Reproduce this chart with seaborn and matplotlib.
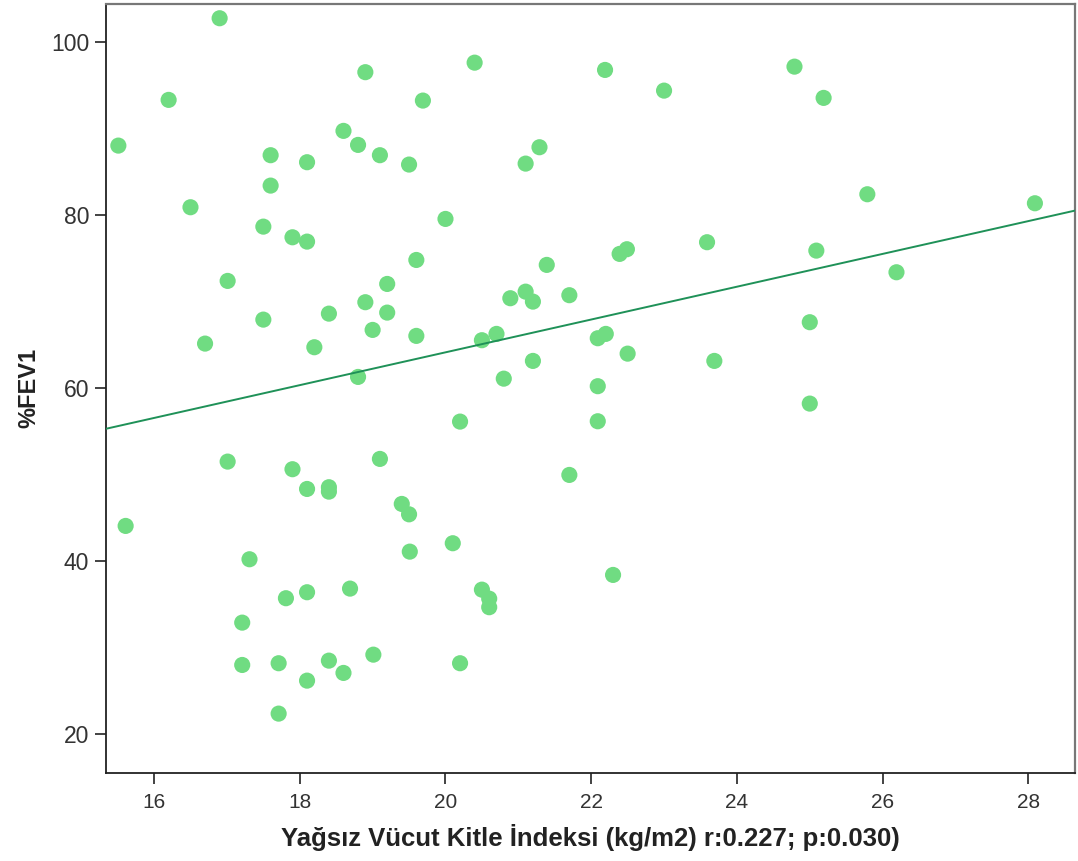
import matplotlib
matplotlib.use("Agg")
import matplotlib.pyplot as plt
import numpy as np
import pandas as pd
import seaborn as sns

# Lean body mass index (kg/m2) and %FEV1 per subject
lbmi = [
    15.51, 15.61, 16.20, 16.50, 16.70, 16.90, 17.01, 17.01, 17.21, 17.21,
    17.31, 17.50, 17.50, 17.60, 17.60, 17.71, 17.71, 17.81, 17.90, 17.90,
    18.10, 18.10, 18.10, 18.10, 18.10, 18.20, 18.40, 18.40, 18.40, 18.40,
    18.60, 18.60, 18.69, 18.80, 18.80, 18.90, 18.90, 19.00, 19.01, 19.10,
    19.10, 19.20, 19.20, 19.40, 19.50, 19.50, 19.51, 19.60, 19.60, 19.69,
    20.00, 20.10, 20.20, 20.20, 20.40, 20.50, 20.50, 20.60, 20.60, 20.70,
    20.80, 20.89, 21.10, 21.10, 21.20, 21.20, 21.29, 21.39, 21.70, 21.70,
    22.09, 22.09, 22.09, 22.19, 22.20, 22.30, 22.39, 22.49, 22.50, 23.00,
    23.59, 23.69, 24.79, 25.00, 25.00, 25.09, 25.19, 25.79, 26.19, 28.09,
]
fev1 = [
    87.99, 44.06, 93.27, 80.87, 65.12, 102.70, 72.36, 51.49, 32.89, 28.00,
    40.21, 78.63, 67.89, 86.88, 83.37, 28.20, 22.38, 35.71, 77.40, 50.61,
    86.07, 76.90, 48.33, 36.40, 26.19, 64.70, 68.58, 48.53, 48.02, 28.50,
    89.69, 27.08, 36.82, 88.07, 61.27, 96.47, 69.90, 66.70, 29.19, 86.88,
    51.80, 72.01, 68.70, 46.60, 85.80, 45.40, 41.09, 74.78, 66.01, 93.19,
    79.52, 42.06, 56.11, 28.20, 97.57, 65.51, 36.70, 35.66, 34.67, 66.24,
    61.07, 70.36, 85.91, 71.12, 69.97, 63.12, 87.80, 74.21, 70.71, 49.95,
    65.74, 60.20, 56.15, 96.73, 66.24, 38.40, 75.48, 76.02, 63.96, 94.34,
    76.83, 63.12, 97.11, 67.59, 58.19, 75.86, 93.50, 82.37, 73.36, 81.33,
]
x_ticks = [16, 18, 20, 22, 24, 26, 28]
y_ticks = [20, 40, 60, 80, 100]
x_label = "Yağsız Vücut Kitle İndeksi (kg/m2) r:0.227; p:0.030)"
y_label = "%FEV1"

df = pd.DataFrame({"lbmi": lbmi, "fev1": fev1})

sns.set_style("ticks")
plt.rcParams["font.family"] = ["Liberation Sans", "DejaVu Sans"]

fig = plt.figure(figsize=(10.78, 8.61), dpi=100)
ax = fig.add_axes([0.0983, 0.1026, 0.8989, 0.8928])
ax.set_xlim(15.34, 28.64)
ax.set_ylim(15.56, 104.35)

sns.regplot(
    data=df, x="lbmi", y="fev1", ax=ax, ci=None, truncate=False,
    scatter_kws=dict(s=135, color="#70dc82", edgecolors="none", alpha=1, zorder=2),
    line_kws=dict(color="#1f9158", lw=1.4, zorder=3),
)

ax.set_xticks(x_ticks)
ax.set_yticks(y_ticks)
ax.tick_params(axis="both", direction="out", length=8, width=1.2,
               color="#222222", labelcolor="#333333")
ax.tick_params(axis="x", labelsize=15, pad=7)
ax.tick_params(axis="y", labelsize=16.5, pad=4)
for side in ["left", "bottom"]:
    ax.spines[side].set_color("#222222")
    ax.spines[side].set_linewidth(1.3)
for side in ["top", "right"]:
    ax.spines[side].set_visible(True)
    ax.spines[side].set_color("#777777")
    ax.spines[side].set_linewidth(1.6)

ax.set_xlabel(x_label, fontsize=18.5, fontweight="bold", color="#222222", labelpad=8)
ax.set_ylabel(y_label, fontsize=17, fontweight="bold", color="#222222", labelpad=8)

fig.savefig("out.png", dpi=100)
